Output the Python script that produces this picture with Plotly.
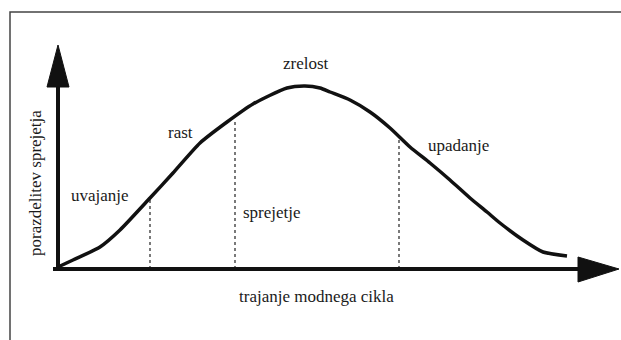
import plotly.graph_objects as go

# Curve: fashion cycle adoption (time units from origin, adoption units)
time_vals = [0, 15, 42, 62, 92, 115, 142, 169, 195, 229, 247, 262, 272, 292, 312, 332, 352, 372, 392, 412, 429, 442, 465, 485, 509]
adoption_vals = [2, 9, 22, 39, 71, 96, 126, 147, 165, 181, 183, 181, 177, 169, 157, 141, 122, 106, 89, 71, 57, 46, 29, 17, 13]

# Phase boundaries (dashed lines)
boundary_t = [92, 177, 341]
boundary_h = [71, 148, 130]

# Phase labels
phase_labels = ["uvajanje", "rast", "zrelost", "sprejetje", "upadanje"]
phase_x = [42, 122, 248, 214, 400]
phase_y = [74, 137, 206, 57, 124]

x_title = "trajanje modnega cikla"
y_title = "porazdelitev sprejetja"

W, H = 621, 340
ox, oy = 58, 269  # origin pixel position

FONT = "Liberation Serif"
FS = 17
TXT = "#1a1a1a"

fig = go.Figure()

for t, h in zip(boundary_t, boundary_h):
    fig.add_trace(go.Scatter(x=[t, t], y=[0, h], mode="lines",
                             line=dict(color="#333333", width=1.3, dash="3px,3px"),
                             hoverinfo="skip", showlegend=False))

fig.add_trace(go.Scatter(x=time_vals, y=adoption_vals, mode="lines",
                         line=dict(color="#111111", width=3.5, shape="spline", smoothing=0.6),
                         hoverinfo="skip", showlegend=False))

shapes = []
# axes lines
shapes.append(dict(type="line", xref="x", yref="y", x0=-5, y0=0, x1=522, y1=0,
                   line=dict(color="#111111", width=4)))
shapes.append(dict(type="line", xref="x", yref="y", x0=0, y0=-2, x1=0, y1=184,
                   line=dict(color="#111111", width=4)))
# arrowheads
shapes.append(dict(type="path", xref="x", yref="y",
                   path="M -11,182 L 11,182 L 0,224 Z",
                   fillcolor="#111111", line=dict(color="#111111", width=1)))
shapes.append(dict(type="path", xref="x", yref="y",
                   path="M 520,12 L 520,-13 L 561,0 Z",
                   fillcolor="#111111", line=dict(color="#111111", width=1)))
# frame (left and top)
shapes.append(dict(type="path", xref="paper", yref="paper",
                   path=f"M {10/W},0 L {10/W},{1-12/H} L 1,{1-12/H}",
                   line=dict(color="#444444", width=1.5)))

annotations = []
for lab, x, y in zip(phase_labels, phase_x, phase_y):
    annotations.append(dict(x=x, y=y, xref="x", yref="y", text=lab, showarrow=False,
                            font=dict(family=FONT, size=FS, color=TXT),
                            xanchor="center", yanchor="middle"))
annotations.append(dict(x=258, y=-27, xref="x", yref="y", text=x_title, showarrow=False,
                        font=dict(family=FONT, size=FS, color=TXT),
                        xanchor="center", yanchor="middle"))
annotations.append(dict(x=-23, y=86, xref="x", yref="y", text=y_title, showarrow=False,
                        textangle=-90,
                        font=dict(family=FONT, size=FS, color=TXT),
                        xanchor="center", yanchor="middle"))

fig.update_layout(
    width=W, height=H,
    margin=dict(l=0, r=0, t=0, b=0),
    paper_bgcolor="white", plot_bgcolor="white",
    font=dict(family=FONT),
    xaxis=dict(range=[-ox, W - ox], visible=False, fixedrange=True),
    yaxis=dict(range=[-(H - oy), oy], visible=False, fixedrange=True),
    shapes=shapes,
    annotations=annotations,
    showlegend=False,
)

fig.write_html("out.html", config={"displayModeBar": False},
               post_script="document.body.style.margin='0px';document.body.style.overflow='hidden';")
